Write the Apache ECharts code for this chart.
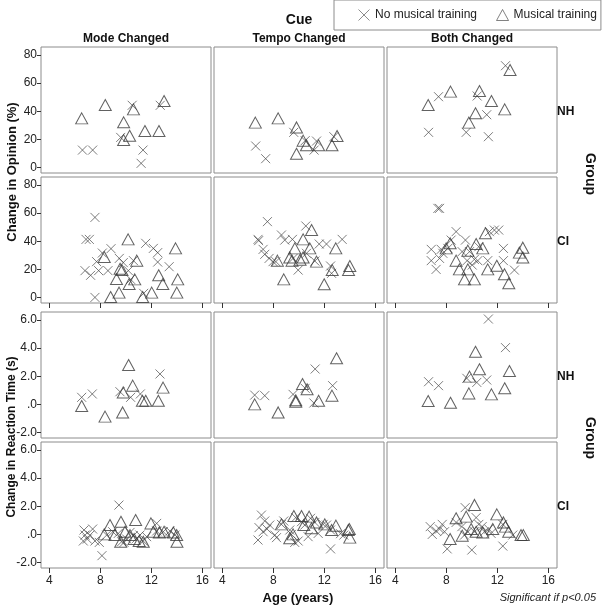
<!DOCTYPE html>
<html><head><meta charset="utf-8">
<script src="https://cdn.jsdelivr.net/npm/echarts@6/dist/echarts.min.js"></script>
<style>html,body{margin:0;padding:0;background:#fff}#c{width:604px;height:605px}</style>
</head><body><div id="c"></div>
<script>
// ---- data: [age, value] ----
const cues = ['Mode Changed', 'Tempo Changed', 'Both Changed'];
const groups = ['NH', 'CI'];
const seriesNames = ['No musical training', 'Musical training'];
const xTicks = [4, 8, 12, 16];
const opinionTicks = [0, 20, 40, 60, 80];
const rtTicks = [-2, 0, 2, 4, 6];

// Opinion, NH
const opModeNH_none = [[6.6,12.5],[7.4,12.5],[9.6,21.5],[10.5,44.3],[11.35,12.5],[11.2,3.1],[12.7,44.3]];
const opModeNH_mus = [[6.54,35],[8.39,44.5],[9.83,32.2],[9.83,19.6],[10.3,22.7],[10.6,41.4],[11.5,26],[12.6,26],[13.0,47.3]];
const opTempoNH_none = [[9.6,25.1],[10.5,19.2],[11.39,18.9],[11.2,12.5],[12.75,22],[6.62,15.4],[7.4,6.4]];
const opTempoNH_mus = [[6.59,32],[8.38,35],[9.82,28.6],[10.34,19.2],[10.6,15.9],[11.55,15.9],[9.82,9.9],[12.6,15.9],[13.0,22.5]];
const opBothNH_none = [[12.64,72.4],[7.39,50.4],[10.42,50.9],[11.17,37.6],[6.61,25.1],[9.56,25.1],[11.3,22]];
const opBothNH_mus = [[13.0,69.3],[8.33,54],[6.58,44.5],[10.6,54.4],[11.54,47.3],[12.58,41.4],[10.29,38.6],[9.77,32]];
// Opinion, CI
const opModeCI_none = [[7.58,57],[6.88,41.4],[7.14,41.4],[8.16,31.7],[8.84,34.8],[7.71,25.6],[6.8,19.2],[7.24,15.9],[7.87,19.2],[8.6,19.2],[9.49,27.9],[9.8,24.9],[10.6,26.3],[10.2,19.2],[10.38,13],[11.56,38.6],[12.16,35],[12.5,32],[12.5,25.3],[13.4,22],[11.4,3.1],[7.58,0.2]];
const opModeCI_mus = [[8.31,28.9],[10.18,41.4],[10.86,26.3],[9.7,19.6],[9.55,20.5],[9.27,13.3],[10.7,13],[10.26,9.7],[12.58,15.9],[12.9,9.7],[13.9,35],[14.07,13],[14.0,3.6],[9.47,3.6],[8.81,0.5],[11.32,0.5],[12.03,3.6]];
const opTempoCI_none = [[7.54,54],[6.8,41.4],[6.85,40.5],[7.2,34.3],[7.33,30.8],[7.67,27.9],[7.98,25.6],[8.64,44.5],[8.9,40.9],[9.5,41.4],[10.55,50.9],[10.6,31.5],[9.55,27.9],[9.95,19.6],[11.6,38.1],[12.17,38.1],[13.4,41.4],[11.26,26],[12.49,22.5],[12.57,17.3],[8.2,25.6]];
const opTempoCI_mus = [[11.0,48],[10.34,41.4],[9.69,35],[10.86,35],[12.9,35],[9.29,28.6],[9.47,26.3],[10.34,28.6],[8.32,26.3],[11.39,25.6],[12.62,19.6],[14.0,22.5],[13.9,19.6],[8.82,13],[11.99,9.5],[10.1,27]];
const opBothCI_none = [[7.34,63.4],[7.47,63.4],[8.77,46.9],[8.38,40.9],[9.5,40.9],[6.82,34.3],[7.6,34.3],[8.12,35],[7.73,31.5],[7.47,27.9],[6.82,26.3],[7.2,20.1],[9.24,32.7],[9.82,32.7],[10.55,36.2],[9.63,26.3],[10.2,27.2],[10.47,26.3],[10.03,23.2],[11.38,46.9],[11.77,48],[12.11,48],[12.48,35],[11.25,26.3],[12.48,26.3],[13.34,19.6]];
const opBothCI_mus = [[11.07,45.7],[8.3,38.6],[7.99,35],[10.34,38.1],[10.86,35],[9.69,33.4],[14.0,35.5],[13.73,32],[14.0,28.6],[8.77,26.3],[9.03,20.1],[9.69,20.1],[11.25,20.1],[11.96,22.7],[12.56,16.6],[12.9,10.2],[9.43,13],[10.2,13]];
// Reaction time, NH
const rtModeNH_none = [[6.54,0.51],[7.37,0.75],[9.54,0.91],[10.38,0.51],[11.14,0.75],[12.68,2.17]];
const rtModeNH_mus = [[6.54,-0.11],[8.37,-0.86],[9.8,0.86],[9.75,-0.56],[10.22,2.8],[10.54,1.34],[11.3,0.27],[11.56,0.27],[12.55,0.27],[12.92,1.2]];
const rtTempoNH_none = [[6.54,0.67],[7.33,0.63],[9.55,0.72],[10.5,1.15],[11.28,2.52],[11.18,0.11],[12.65,1.34]];
const rtTempoNH_mus = [[6.54,0.01],[8.38,-0.56],[9.76,0.2],[9.76,0.3],[10.29,1.46],[10.65,1.08],[11.55,0.27],[12.6,0.63],[12.96,3.28]];
const rtBothNH_none = [[11.3,6.07],[12.64,4.04],[6.61,1.62],[7.39,1.34],[9.61,1.86],[10.39,1.57],[11.17,1.74]];
const rtBothNH_mus = [[10.29,3.75],[10.6,2.5],[12.95,2.38],[9.82,1.98],[12.58,1.15],[9.77,0.79],[11.54,0.72],[6.58,0.25],[8.33,0.13]];
// Reaction time, CI
const rtModeCI_none = [[9.46,2.09],[8.13,-1.5],[6.72,0.32],[6.8,-0.04],[6.98,-0.32],[6.67,-0.46],[7.4,0.39],[7.19,-0.04],[7.58,-0.46],[7.92,-0.56],[8.5,-0.04],[8.97,0.2],[9.41,0.08],[9.86,-0.56],[10.07,-0.32],[10.33,0.15],[10.59,-0.08],[10.85,-0.27],[11.11,-0.04],[11.37,-0.46],[11.63,-0.15],[12.42,0.79],[12.42,0.25],[12.94,0.2],[13.46,0.25],[13.86,-0.04],[9.67,-0.51]];
const rtModeCI_mus = [[8.76,0.67],[9.62,0.91],[10.77,1.03],[11.97,0.79],[8.31,0.01],[9.15,-0.04],[9.94,0.2],[10.33,-0.04],[10.65,-0.32],[11.05,-0.46],[11.37,-0.51],[12.16,0.2],[12.63,0.15],[13.0,0.2],[13.73,0.15],[13.99,-0.04],[14.01,-0.51],[9.6,-0.51]];
const rtTempoCI_none = [[7.07,1.38],[7.33,0.96],[7.72,0.67],[6.88,0.49],[7.51,0.39],[7.2,0.2],[6.8,-0.39],[8.12,-0.04],[8.25,-0.22],[8.64,0.72],[8.82,0.96],[9.29,0.32],[9.42,0.01],[9.68,-0.56],[9.95,-0.46],[9.76,1.2],[10.21,0.91],[10.47,0.67],[10.73,-0.15],[10.92,1.15],[11.26,0.86],[11.52,0.08],[11.91,0.72],[12.17,0.67],[12.49,0.32],[12.49,-1.02],[13.27,0.06],[13.53,-0.04]];
const rtTempoCI_mus = [[9.61,1.31],[10.21,1.31],[10.81,1.27],[8.64,0.72],[10.39,0.67],[9.29,-0.27],[9.55,0.01],[10.99,0.44],[11.39,0.86],[12.04,0.72],[12.91,0.63],[12.57,0.32],[13.96,0.39],[14.0,-0.22],[13.88,0.32]];
const rtBothCI_none = [[9.48,1.91],[6.74,0.56],[6.9,0.01],[7.21,0.25],[7.47,0.39],[7.68,0.72],[7.86,0.2],[8.07,-1.02],[8.77,0.86],[9.22,0.56],[9.43,-0.04],[9.69,0.2],[10.0,-1.1],[10.21,0.2],[10.34,1.2],[10.55,0.72],[10.81,0.56],[10.99,0.2],[11.33,0.39],[11.51,0.08],[12.43,0.72],[12.43,-0.82],[13.21,-0.04]];
const rtBothCI_mus = [[10.21,2.1],[8.77,1.15],[9.56,1.27],[11.96,1.43],[12.48,0.86],[8.3,-0.32],[9.25,-0.08],[9.95,0.39],[10.34,0.2],[10.86,0.15],[11.64,0.39],[12.89,0.2],[13.86,-0.04],[14.04,-0.04],[12.64,0.56]];

const panels = [
  [opModeNH_none, opModeNH_mus], [opTempoNH_none, opTempoNH_mus], [opBothNH_none, opBothNH_mus],
  [opModeCI_none, opModeCI_mus], [opTempoCI_none, opTempoCI_mus], [opBothCI_none, opBothCI_mus],
  [rtModeNH_none, rtModeNH_mus], [rtTempoNH_none, rtTempoNH_mus], [rtBothNH_none, rtBothNH_mus],
  [rtModeCI_none, rtModeCI_mus], [rtTempoCI_none, rtTempoCI_mus], [rtBothCI_none, rtBothCI_mus]
];

// ---- layout ----
const FONT = 'Liberation Sans, Arial, sans-serif';
const colLeft = [41, 214, 387], colW = 170;
const rowTop = [47, 177, 312, 442], rowH = 126;
const X_MIN = 3.35, X_MAX = 16.68;
const OP_MIN = -3.76, OP_MAX = 85.68;
const RT_MIN = -2.376, RT_MAX = 6.568;
const CROSS_INK = '#4a4a4a';
const TRI_INK = '#3a3a3a';
const CROSS_PATH = 'path://M0,0L10,10M10,0L0,10';

const grids = [], xAxes = [], yAxes = [], series = [];
for (let r = 0; r < 4; r++) {
  for (let c = 0; c < 3; c++) {
    const i = r * 3 + c;
    const isOp = r < 2;
    grids.push({left: colLeft[c], top: rowTop[r], width: colW, height: rowH, show: true,
      borderColor: '#8c8c8c', borderWidth: 1, backgroundColor: 'transparent'});
    const showXTick = (r === 1 || r === 3);
    xAxes.push({gridIndex: i, type: 'value', min: X_MIN, max: X_MAX, position: 'bottom',
      axisLine: {show: false, onZero: false}, splitLine: {show: false},
      axisTick: {show: showXTick, customValues: xTicks, length: 5, lineStyle: {color: '#333'}},
      axisLabel: {show: r === 3, customValues: xTicks, margin: 7, fontSize: 12, color: '#222', fontFamily: FONT}});
    const yt = isOp ? opinionTicks : rtTicks;
    yAxes.push({gridIndex: i, type: 'value', min: isOp ? OP_MIN : RT_MIN, max: isOp ? OP_MAX : RT_MAX, position: 'left',
      axisLine: {show: false, onZero: false}, splitLine: {show: false},
      axisTick: {show: c === 0, customValues: yt, length: 4, lineStyle: {color: '#333'}},
      axisLabel: {show: c === 0, customValues: yt, margin: 4, fontSize: 12, color: '#222', fontFamily: FONT,
        formatter: v => isOp ? String(v) : (Math.abs(v) < 1e-9 ? '.0' : v.toFixed(1))}});
    series.push({type: 'scatter', name: seriesNames[0], xAxisIndex: i, yAxisIndex: i,
      symbol: CROSS_PATH, symbolSize: 9,
      itemStyle: {color: 'none', borderColor: CROSS_INK, borderWidth: 0.9},
      emphasis: {disabled: true}, data: panels[i][0]});
    series.push({type: 'scatter', name: seriesNames[1], xAxisIndex: i, yAxisIndex: i,
      symbol: 'triangle', symbolSize: [12, 11],
      itemStyle: {color: 'none', borderColor: TRI_INK, borderWidth: 1},
      emphasis: {disabled: true}, data: panels[i][1]});
  }
}

const bold = (t, x, y, size, rot, align) => ({type: 'text', x, y, rotation: rot || 0,
  style: {text: t, font: `bold ${size}px ${FONT}`, fill: '#111', align: align || 'center', verticalAlign: 'middle'}});

const graphic = [
  bold('Cue', 299, 20, 14),
  bold(cues[0], 126, 39, 12), bold(cues[1], 299, 39, 12), bold(cues[2], 472, 39, 12),
  bold(groups[0], 557, 112, 12, 0, 'left'), bold(groups[1], 557, 242, 12, 0, 'left'),
  bold(groups[0], 557, 377, 12, 0, 'left'), bold(groups[1], 557, 507, 12, 0, 'left'),
  bold('Group', 590, 174, 14, -Math.PI / 2), bold('Group', 590, 438, 14, -Math.PI / 2),
  bold('Change in Opinion (%)', 12, 172, 13, Math.PI / 2),
  bold('Change in Reaction Time (s)', 12, 437, 12, Math.PI / 2),
  bold('Age (years)', 298, 598, 13),
  {type: 'text', x: 596, y: 598, style: {text: 'Significant if p<0.05', font: `italic 11px ${FONT}`, fill: '#222', align: 'right', verticalAlign: 'middle'}}
];

const chart = echarts.init(document.getElementById('c'), null, {renderer: 'canvas'});
chart.setOption({
  animation: false,
  backgroundColor: '#fff',
  grid: grids, xAxis: xAxes, yAxis: yAxes, series,
  legend: {
    data: [
      {name: seriesNames[0], icon: CROSS_PATH, itemStyle: {color: 'none', borderColor: CROSS_INK, borderWidth: 0.8}},
      {name: seriesNames[1], icon: 'triangle', itemStyle: {color: 'none', borderColor: TRI_INK, borderWidth: 0.8}}
    ],
    orient: 'horizontal', left: 334, top: 0, width: 242, selectedMode: false,
    borderColor: '#8c8c8c', borderWidth: 1, padding: [7, 4, 7, 22], itemGap: 17,
    itemWidth: 12, itemHeight: 11,
    textStyle: {fontSize: 12, fontFamily: FONT, color: '#222'}},
  graphic
});
</script></body></html>
